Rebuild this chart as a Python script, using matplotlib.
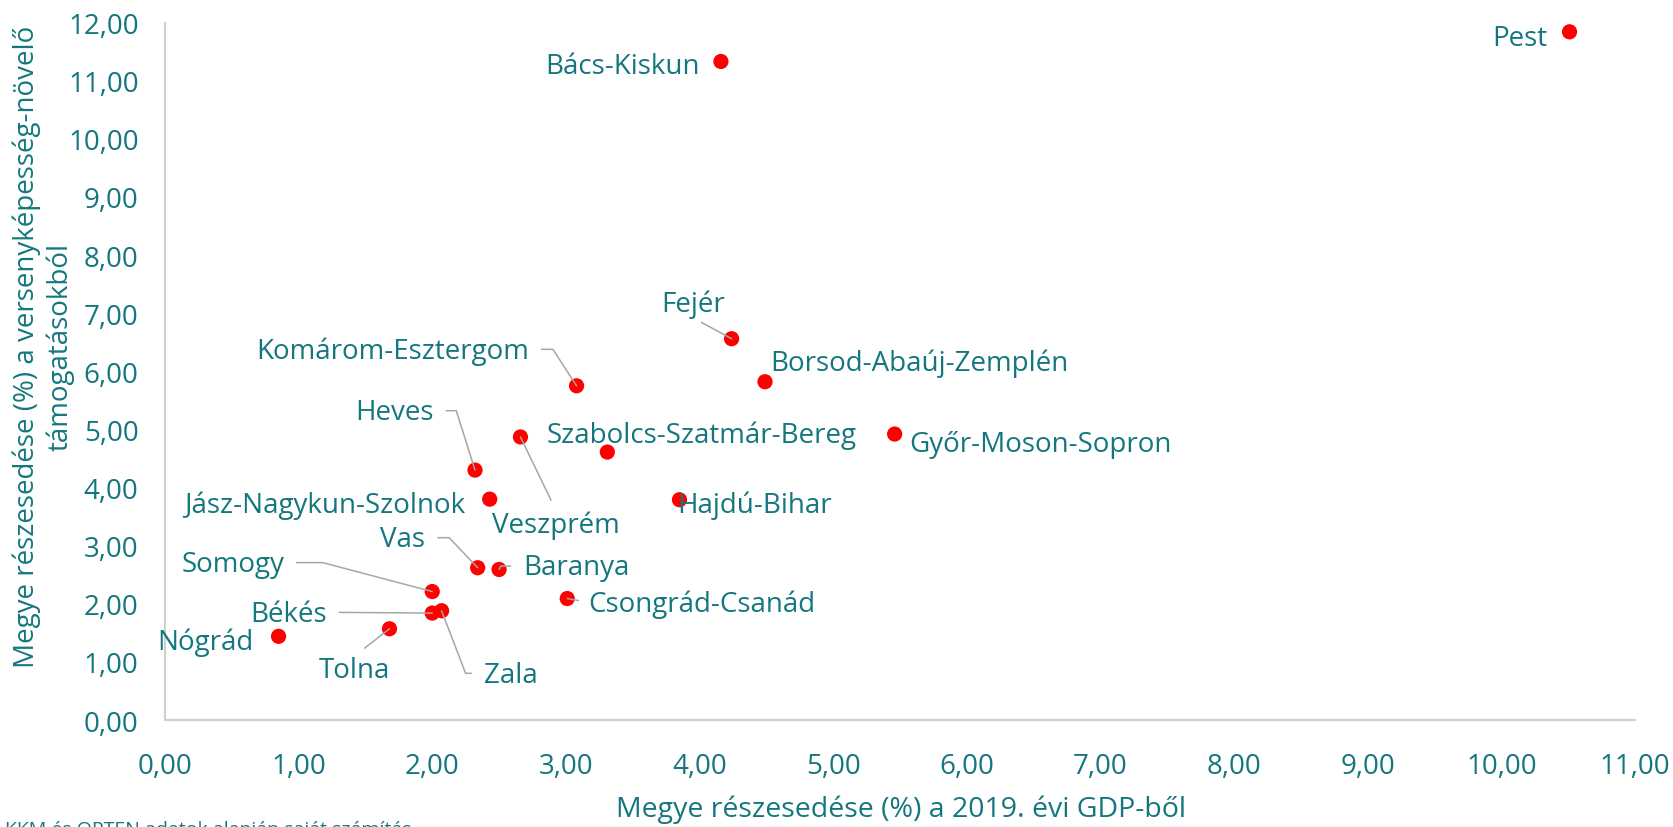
import matplotlib
matplotlib.use('Agg')
import matplotlib.pyplot as plt
from matplotlib.ticker import FuncFormatter, MultipleLocator

plt.rcParams['font.family'] = ['Open Sans', 'DejaVu Sans']

# county data: share of GDP 2019 (%) vs share of competitiveness support (%)
counties = ['Pest', 'Bács-Kiskun', 'Fejér', 'Borsod-Abaúj-Zemplén', 'Győr-Moson-Sopron',
            'Komárom-Esztergom', 'Szabolcs-Szatmár-Bereg', 'Veszprém', 'Heves',
            'Jász-Nagykun-Szolnok', 'Hajdú-Bihar', 'Vas', 'Baranya', 'Csongrád-Csanád',
            'Somogy', 'Békés', 'Zala', 'Tolna', 'Nógrád']
gdp_share = [10.51, 4.16, 4.24, 4.49, 5.46, 3.08, 3.31, 2.66, 2.32, 2.43, 3.85,
             2.34, 2.50, 3.01, 2.00, 2.00, 2.07, 1.68, 0.85]
support_share = [11.84, 11.33, 6.56, 5.82, 4.92, 5.75, 4.61, 4.87, 4.30, 3.80, 3.79,
                 2.62, 2.59, 2.09, 2.21, 1.84, 1.88, 1.57, 1.44]

TEAL = '#14777f'
GREY = '#a6a6a6'

# label layout: (dx, dy in points, ha, leader) ; leader = None | ('line', relpos, shrinkA) | ('angle', relpos, angleB)
layout = {
    'Pest': (-15.8, -9.4, 'right', None),
    'Bács-Kiskun': (-15.0, -8.6, 'right', None),
    'Fejér': (-28.0, 20.2, 'center', ('line', (0.5, 0.0), 3)),
    'Borsod-Abaúj-Zemplén': (3.6, 8.6, 'left', None),
    'Győr-Moson-Sopron': (10.8, -12.2, 'left', None),
    'Komárom-Esztergom': (-34.3, 20.0, 'right', ('angle', (1.0, 0.55), -57)),
    'Szabolcs-Szatmár-Bereg': (-43.6, 7.2, 'left', None),
    'Veszprém': (25.6, -68.4, 'center', ('line', (0.5, 1.0), 6)),
    'Heves': (-29.7, 36.7, 'right', ('angle', (1.0, 0.55), -72.5)),
    'Jász-Nagykun-Szolnok': (-17.3, -9.1, 'right', None),
    'Hajdú-Bihar': (-1.7, -8.9, 'left', None),
    'Vas': (-37.7, 15.6, 'right', ('angle', (1.0, 0.55), -46.5)),
    'Baranya': (17.3, -3.6, 'left', ('angle', (0.0, 0.55), 62)),
    'Csongrád-Csanád': (14.9, -8.9, 'left', ('line', (0.0, 0.55), 5)),
    'Somogy': (-106.6, 14.8, 'right', ('angle', (1.0, 0.55), -14.8)),
    'Békés': (-75.8, -5.5, 'right', ('line', (1.0, 0.55), 7)),
    'Zala': (30.5, -51.1, 'left', ('angle', (0.0, 0.55), 111)),
    'Tolna': (-25.2, -34.8, 'center', ('line', (0.5, 1.0), 6)),
    'Nógrád': (-17.8, -9.1, 'right', None),
}

fig = plt.figure(figsize=(16.73, 8.28), dpi=100)
ax = fig.add_axes([0.0986, 0.1292, 0.8787, 0.8424])

ax.scatter(gdp_share, support_share, s=120, color='#ff0000', edgecolors='none', zorder=2)

for name, x, y in zip(counties, gdp_share, support_share):
    dx, dy, ha, leader = layout[name]
    arrow = None
    if leader is not None:
        kind, relpos, par = leader
        arrow = dict(arrowstyle='-', color=GREY, lw=1.1, relpos=relpos, shrinkB=0)
        if kind == 'line':
            arrow['shrinkA'] = par
        else:
            arrow['shrinkA'] = 7
            arrow['connectionstyle'] = f'angle,angleA=0,angleB={par},rad=0'
    ax.annotate(name, xy=(x, y), xytext=(dx, dy), textcoords='offset points',
                ha=ha, va='baseline', fontsize=20, color=TEAL,
                arrowprops=arrow, zorder=3)

ax.set_xlim(0, 11)
ax.set_ylim(0, 12)
ax.xaxis.set_major_locator(MultipleLocator(1))
ax.yaxis.set_major_locator(MultipleLocator(1))
fmt = FuncFormatter(lambda v, p: f'{v:.2f}'.replace('.', ','))
ax.xaxis.set_major_formatter(fmt)
ax.yaxis.set_major_formatter(fmt)
ax.tick_params(length=0, labelsize=20, labelcolor=TEAL)
ax.tick_params(axis='y', pad=19)
ax.tick_params(axis='x', pad=23)

for s in ['top', 'right']:
    ax.spines[s].set_visible(False)
for s in ['left', 'bottom']:
    ax.spines[s].set_color('#d0d0d0')
    ax.spines[s].set_linewidth(1.5)

fig.text(0.5388, 0.013, 'Megye részesedése (%) a 2019. évi GDP-ből', ha='center', va='baseline',
         fontsize=20.5, color=TEAL)
fig.text(0.026, 0.581, 'Megye részesedése (%) a versenyképesség-növelő\ntámogatásokból',
         rotation=90, ha='center', va='center', multialignment='center',
         fontsize=20, color=TEAL, linespacing=1.25)
fig.text(0.003, -0.008, 'KKM és OPTEN adatok alapján saját számítás', ha='left', va='baseline',
         fontsize=14, color=TEAL)

fig.savefig('out.png', dpi=100)
